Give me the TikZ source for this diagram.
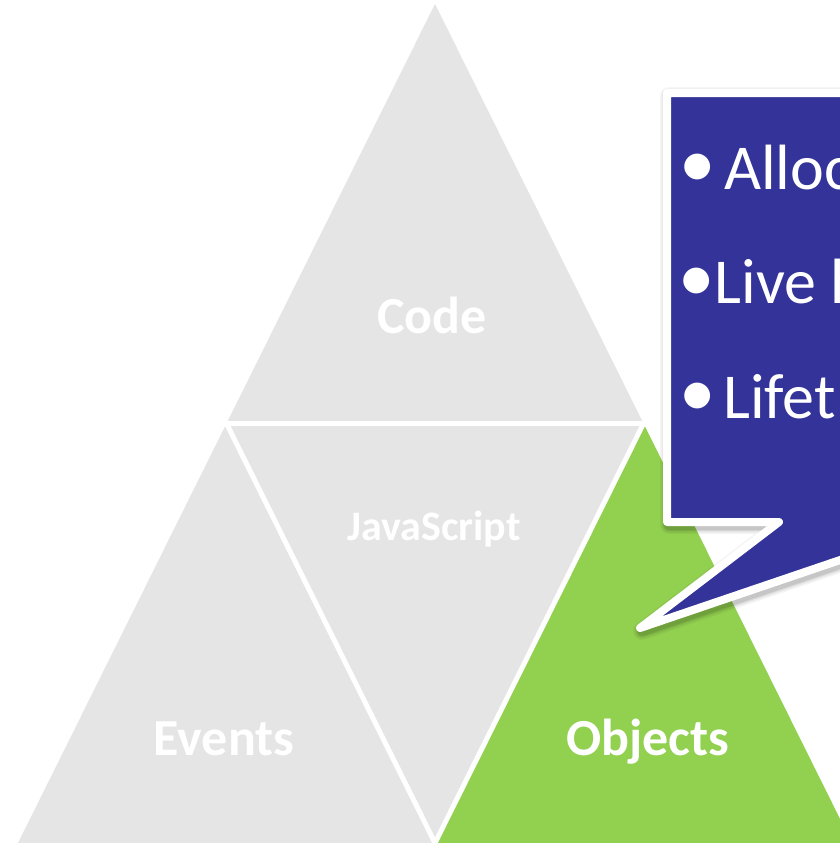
\documentclass[tikz,border=0pt]{standalone}
\usepackage{fontspec}
\setmainfont{Carlito}
\definecolor{trigray}{RGB}{229,229,229}
\definecolor{trigreen}{RGB}{146,208,80}
\definecolor{callblue}{RGB}{51,51,153}
\newcommand\calloutdraw[1]{\path[#1] (667,93) -- (1000,93) -- (1000,522) -- (952,522) -- (640,628) -- (779,522) -- (667,522) -- cycle;}
\newcommand\bigbullet{{\fontsize{73}{80}\selectfont\raisebox{2pt}{•}}}
\begin{document}
\begin{tikzpicture}[x=1pt,y=-1pt,
  tri/.style={fill=trigray},
  gap/.style={draw=white,line width=5pt},
  lbl/.style={text=white,inner sep=0pt,font=\bfseries\fontsize{52}{60}\selectfont},
  ctext/.style={text=white,inner sep=0pt,font=\fontsize{64}{72}\selectfont},
  cbullet/.style={text=white,inner sep=0pt,font=\fontsize{73}{80}\selectfont}]
\useasboundingbox (0,0) rectangle (840,843);
\clip (0,0) rectangle (840,843);
\fill[white] (0,0) rectangle (840,843);
\coordinate (A) at (435,4);
\coordinate (BL) at (18,843);
\coordinate (BR) at (852,843);
\coordinate (ML) at (226.5,423.5);
\coordinate (MR) at (643.5,423.5);
\coordinate (MB) at (435,843);
\coordinate (MLx) at (215,423.5);
\coordinate (MRx) at (655,423.5);
% triangles
\fill[tri] (A) -- (ML) -- (MR) -- cycle;
\fill[tri] (ML) -- (BL) -- (MB) -- cycle;
\fill[tri] (ML) -- (MR) -- (MB) -- cycle;
\fill[trigreen] (MR) -- (MB) -- (BR) -- cycle;
\draw[gap] (MLx) -- (MRx);
\draw[gap] (ML) -- (MB) -- (MR);
% labels
\node[lbl,anchor=base] (code) at (432,333) {Code};
\node[lbl,anchor=base,font=\bfseries\fontsize{42}{50}\selectfont] (js) at (434,540) {JavaScript};
\node[lbl,anchor=base] (events) at (224,755) {Events};
\node[lbl,anchor=base] (objects) at (648,755) {Objects};
% callout shadow
\begin{scope}[shift={(2,3)}]
\foreach \w/\o in {18/0.04,15/0.05,12/0.07,10/0.08} {
  \calloutdraw{draw=black,draw opacity=\o,line width=\w pt,line join=round}
}
\end{scope}
% callout
\calloutdraw{fill=callblue,draw=white,line width=8pt,line join=round}
\node[cbullet,anchor=base] (b1) at (698,187) {•};
\node[ctext,anchor=base west] (t1) at (724,189) {Alloc};
\node[ctext,anchor=base west] (t2) at (678,303) {\bigbullet Live h};
\node[cbullet,anchor=base] (b3) at (698,416) {•};
\node[ctext,anchor=base west] (t3) at (723,418) {Lifet};
\end{tikzpicture}
\end{document}
